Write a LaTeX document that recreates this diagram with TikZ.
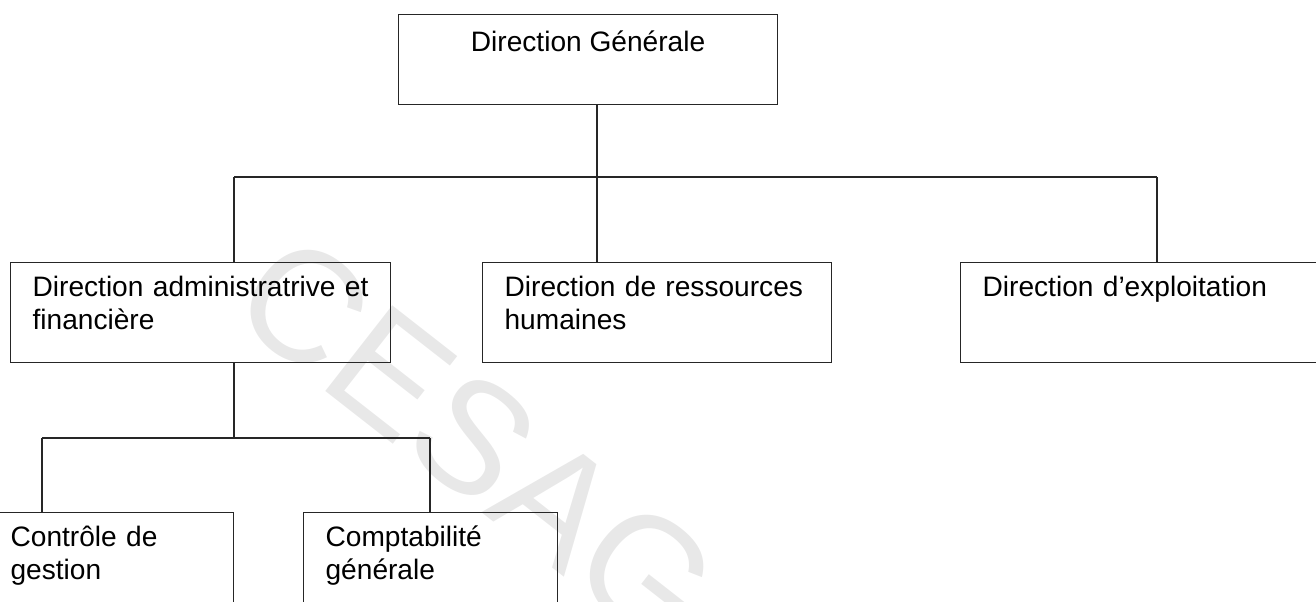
\documentclass[tikz,border=0pt]{standalone}
\usepackage{fontspec}
\setmainfont{Liberation Sans}
\usepackage{tikz}
\usetikzlibrary{positioning}
\newcommand\orgfont{\fontsize{16}{18.5}\selectfont}
\newcommand\markfont{\fontsize{90}{90}\selectfont}

\begin{document}
\begin{tikzpicture}[x=0.02cm,y=-0.02cm,
    link/.style={draw=black!85, line width=0.7pt},
    unit/.style={draw=black!85, line width=0.7pt, anchor=north west,
      inner sep=0pt, inner xsep=0.44cm, align=left, font=\orgfont,
      text height=0.68cm},
    head/.style={draw=black!85, line width=0.7pt, anchor=north west,
      inner sep=0pt, align=center, font=\orgfont,
      minimum width=7.58cm, text height=0.74cm, text depth=1.06cm}]

    \clip (0,0) rectangle (1316,602);

    % watermark of the scan
    \node[text=black!9, font=\markfont, rotate=-38] (mark) at (515,470) {CESAG -};

    % top level
    \node[head] (dg) at (398,14) {Direction Générale};

    % second level
    \node[unit, text width=6.72cm, text depth=1.32cm] (daf) at (10,262)
      {Direction administratrive et\\financière};
    \node[unit, text width=6.1cm, text depth=1.32cm] (drh) at (482,262)
      {Direction de ressources\\humaines};
    \node[unit, text width=6.52cm, text depth=1.32cm] (dex) at (960,262)
      {Direction d'exploitation};

    % third level
    \node[unit, text width=4.02cm, text depth=1.6cm] (cg) at (-12,512)
      {Contrôle de\\gestion};
    \node[unit, text width=4.2cm, text depth=1.6cm] (cpt) at (303,512)
      {Comptabilité\\générale};

    \coordinate (busL) at (234,177);
    \coordinate (busM) at (597,177);
    \coordinate (busR) at (1157,177);
    \coordinate (subL) at (42,438);
    \coordinate (subR) at (430,438);

    \path[link]
      (dg.south -| busM) -- (busM |- drh.north)
      (busL) -- (busR)
      (busL) -- (busL |- daf.north)
      (busR) -- (busR |- dex.north)
      (daf.south -| busL) -- (busL |- subL)
      (subL) -- (subR)
      (subL) -- (subL |- cg.north)
      (subR) -- (subR |- cpt.north)
      ;
\end{tikzpicture}
\end{document}
